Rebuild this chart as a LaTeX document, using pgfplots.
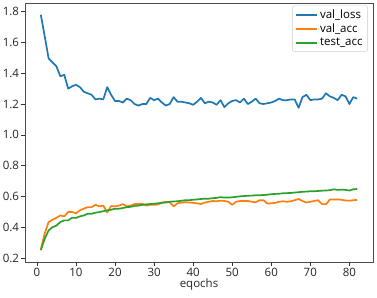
\documentclass[border=0pt]{standalone}
\usepackage{fontspec}
\setmainfont{Open Sans}
\usepackage{pgfplots}
\pgfplotsset{compat=1.18}
\definecolor{c0}{HTML}{1F77B4}
\definecolor{c1}{HTML}{FF7F0E}
\definecolor{c2}{HTML}{2CA02C}
\begin{document}
\begin{tikzpicture}
\useasboundingbox (-25pt,-35pt) rectangle (352pt,262pt);
\begin{axis}[
  at={(0pt,0pt)}, anchor=south west,
  scale only axis, width=348pt, height=259pt,
  xmin=-3.05, xmax=86.05, ymin=0.1735, ymax=1.8565,
  xtick={0,10,...,80}, ytick={0.2,0.4,...,1.8},
  yticklabel style={/pgf/number format/fixed,/pgf/number format/fixed zerofill,/pgf/number format/precision=1, xshift=1pt},
  /pgf/number format/assume math mode=true,
  tick align=outside, tick pos=left, major tick length=3.5pt,
  axis line style={black!70, line width=0.6pt},
  tick style={black!80, line width=0.6pt},
  ticklabel style={font=\fontsize{11.5}{13}\selectfont, text=black!85},
  xticklabel style={yshift=1pt},
  xlabel={eqochs}, xlabel style={font=\fontsize{11.5}{13}\selectfont, text=black!85, yshift=5pt},
  legend style={at={(0.985,0.99)}, anchor=north east, draw=black!20, rounded corners=2pt,
    font=\fontsize{11.5}{13}\selectfont, row sep=0pt, inner xsep=3pt, inner ysep=2pt},
  legend cell align=left,
  legend image code/.code={\draw[#1, line width=1.7pt] (0pt,0pt) -- (21pt,0pt);},
  every axis plot/.append style={line width=1.7pt, line join=round},
]
\addplot[c0] coordinates {
(1,1.78)(2,1.64)(3,1.496)(4,1.47)(5,1.445)(6,1.38)(7,1.39)(8,1.30)(9,1.315)(10,1.325)
(11,1.31)(12,1.28)(13,1.27)(14,1.26)(15,1.23)(16,1.235)(17,1.23)(18,1.31)(19,1.26)(20,1.22)
(21,1.22)(22,1.21)(23,1.235)(24,1.225)(25,1.20)(26,1.19)(27,1.20)(28,1.20)(29,1.24)(30,1.225)
(31,1.235)(32,1.21)(33,1.19)(34,1.20)(35,1.245)(36,1.215)(37,1.215)(38,1.21)(39,1.205)(40,1.195)
(41,1.215)(42,1.24)(43,1.205)(44,1.215)(45,1.21)(46,1.195)(47,1.225)(48,1.18)(49,1.205)(50,1.22)
(51,1.225)(52,1.21)(53,1.235)(54,1.20)(55,1.215)(56,1.235)(57,1.205)(58,1.20)(59,1.205)(60,1.21)
(61,1.22)(62,1.235)(63,1.225)(64,1.225)(65,1.23)(66,1.23)(67,1.175)(68,1.245)(69,1.26)(70,1.225)
(71,1.23)(72,1.23)(73,1.235)(74,1.27)(75,1.25)(76,1.24)(77,1.225)(78,1.26)(79,1.25)(80,1.20)
(81,1.245)(82,1.235)};
\addlegendentry{val\_loss}
\addplot[c1] coordinates {
(1,0.254)(2,0.36)(3,0.433)(4,0.448)(5,0.461)(6,0.476)(7,0.47)(8,0.498)(9,0.498)(10,0.49)
(11,0.509)(12,0.52)(13,0.53)(14,0.53)(15,0.545)(16,0.535)(17,0.54)(18,0.495)(19,0.537)(20,0.535)
(21,0.54)(22,0.55)(23,0.535)(24,0.54)(25,0.55)(26,0.55)(27,0.552)(28,0.54)(29,0.545)(30,0.545)
(31,0.547)(32,0.56)(33,0.565)(34,0.562)(35,0.535)(36,0.555)(37,0.56)(38,0.562)(39,0.56)(40,0.558)
(41,0.555)(42,0.55)(43,0.56)(44,0.565)(45,0.57)(46,0.568)(47,0.572)(48,0.57)(49,0.565)(50,0.545)
(51,0.565)(52,0.57)(53,0.57)(54,0.57)(55,0.565)(56,0.562)(57,0.575)(58,0.575)(59,0.553)(60,0.555)
(61,0.558)(62,0.565)(63,0.568)(64,0.565)(65,0.568)(66,0.575)(67,0.583)(68,0.57)(69,0.56)(70,0.565)
(71,0.57)(72,0.575)(73,0.55)(74,0.548)(75,0.58)(76,0.58)(77,0.58)(78,0.578)(79,0.573)(80,0.572)
(81,0.575)(82,0.577)};
\addlegendentry{val\_acc}
\addplot[c2] coordinates {
(1,0.25)(2,0.325)(3,0.379)(4,0.40)(5,0.41)(6,0.433)(7,0.444)(8,0.444)(9,0.461)(10,0.46)
(11,0.47)(12,0.476)(13,0.487)(14,0.487)(15,0.494)(16,0.498)(17,0.504)(18,0.509)(19,0.513)(20,0.52)
(21,0.52)(22,0.524)(23,0.53)(24,0.532)(25,0.538)(26,0.54)(27,0.545)(28,0.548)(29,0.55)(30,0.552)
(31,0.555)(32,0.558)(33,0.56)(34,0.565)(35,0.567)(36,0.568)(37,0.572)(38,0.575)(39,0.575)(40,0.578)
(41,0.58)(42,0.583)(43,0.585)(44,0.585)(45,0.588)(46,0.59)(47,0.595)(48,0.592)(49,0.592)(50,0.594)
(51,0.597)(52,0.6)(53,0.602)(54,0.604)(55,0.605)(56,0.607)(57,0.607)(58,0.609)(59,0.611)(60,0.614)
(61,0.616)(62,0.617)(63,0.62)(64,0.621)(65,0.622)(66,0.625)(67,0.627)(68,0.63)(69,0.631)(70,0.633)
(71,0.633)(72,0.635)(73,0.637)(74,0.638)(75,0.64)(76,0.646)(77,0.642)(78,0.644)(79,0.642)(80,0.638)
(81,0.646)(82,0.648)};
\addlegendentry{test\_acc}
\end{axis}
\end{tikzpicture}
\end{document}
